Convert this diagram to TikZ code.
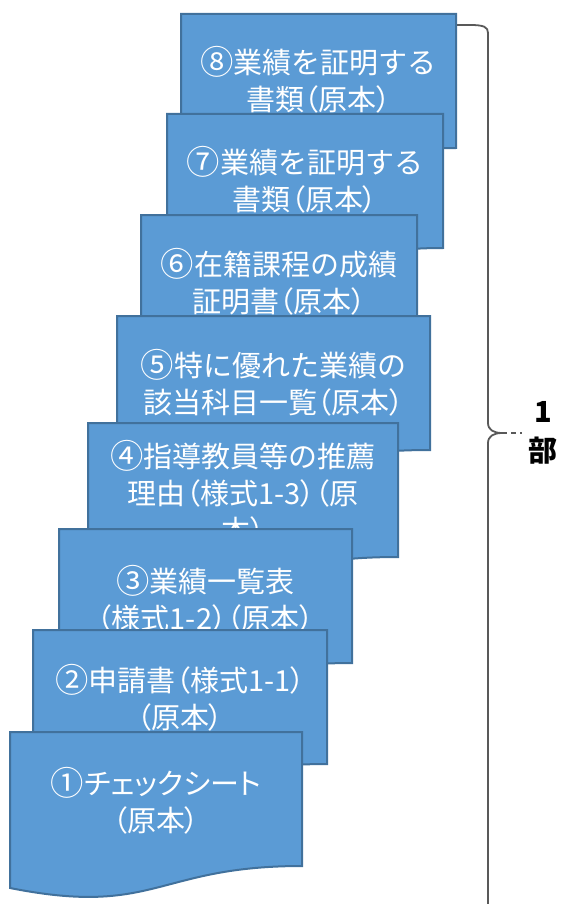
\documentclass[tikz,border=0pt]{standalone}
\usepackage{fontspec}
\setmainfont{Noto Sans CJK JP}
\newfontfamily\jpp[RawFeature=+palt]{Noto Sans CJK JP}
\newcommand\lp{{\jpp （}}
\newcommand\rp{{\jpp ）}}
\newcommand\cn[1]{\raisebox{-0.04em}{\scalebox{1.15}{#1}}}
\definecolor{docfill}{HTML}{5B9BD5}
\definecolor{docline}{HTML}{41719C}
\definecolor{bracecol}{HTML}{595959}
\tikzset{
  docstyle/.style={fill=docfill, draw=docline, line width=2pt, line join=miter},
  doctext/.style={text=white, align=center, font=\fontsize{29}{37}\selectfont, inner sep=0pt},
  bracestyle/.style={draw=bracecol, line width=1.8pt},
  labeltext/.style={text=black, align=center, font=\fontsize{29}{39}\selectfont\bfseries, inner sep=0pt}
}
% #1 left, #2 top, #3 right, #4 node name, #5 text, #6 text offset from top
\newcommand\docbox[6]{%
  \path[docstyle] (#1,#2) -- (#3,#2) -- (#3,#2+134)
    .. controls ({(#1+#3)/2},#2+134) and ({(#1+#3)/2},#2+185) .. (#1,#2+156) -- cycle;
  \node[doctext] (#4) at ({(#1+#3)/2},#2+#6) {#5};
}
\begin{document}
\begin{tikzpicture}[x=1pt,y=-1pt]
\useasboundingbox (0,0) rectangle (568,904);
% brace
\coordinate (bt) at (440,25);
\coordinate (tip) at (502,433);
\coordinate (bb) at (488,912);
\coordinate (dashend) at (522,433);
\draw[bracestyle] (bt) -- (470,25) .. controls (484,25) and (488,27) .. (488,33)
  -- (488,423) .. controls (488,430) and (494,433) .. (tip)
  .. controls (494,433) and (488,436) .. (488,443) -- (bb);
\draw[bracestyle, dash pattern=on 5pt off 4pt] (tip) -- (dashend);
\node[labeltext] (lbl) at (543,433) {1\\部};
% documents, back to front
\docbox{181}{14}{456}{d8}{\cn{⑧}業績を証明する\\書類\lp 原本\rp}{66}
\docbox{167}{114}{443}{d7}{\cn{⑦}業績を証明する\\書類\lp 原本\rp}{66}
\docbox{141}{215}{417}{d6}{\cn{⑥}在籍課程の成績\\証明書\lp 原本\rp}{67}
\docbox{117}{316}{430}{d5}{\cn{⑤}特に優れた業績の\\該当科目一覧\lp 原本\rp}{67}
\docbox{88}{423}{398}{d4}{\cn{④}指導教員等の推薦\\理由\lp 様式1-3\rp\lp 原\\本\rp}{69}
\docbox{59}{529}{352}{d3}{\cn{③}業績一覧表\\\lp 様式1-2\rp\lp 原本\rp}{70}
\docbox{33}{630}{327}{d2}{\cn{②}申請書\lp 様式1-1\rp\\\lp 原本\rp}{68}
\docbox{10}{732}{302}{d1}{{\jpp \cn{①}チェックシート}\\\lp 原本\rp}{69}
\end{tikzpicture}
\end{document}
